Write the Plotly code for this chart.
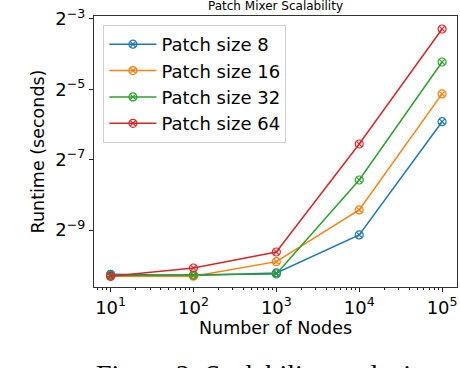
import plotly.graph_objects as go

nodes = [10, 100, 1000, 10000, 100000]
patch_labels = ['Patch size 8', 'Patch size 16', 'Patch size 32', 'Patch size 64']
runtime_p8 = [0.000816, 0.000798, 0.000838, 0.001773, 0.016515]
runtime_p16 = [0.000787, 0.000787, 0.001047, 0.00290, 0.02856]
runtime_p32 = [0.000798, 0.000804, 0.000821, 0.005234, 0.05355]
runtime_p64 = [0.000784, 0.000924, 0.001266, 0.010642, 0.10266]

x_ticks = [10, 100, 1000, 10000, 100000]
x_ticktext = ['10<sup>1</sup>', '10<sup>2</sup>', '10<sup>3</sup>', '10<sup>4</sup>', '10<sup>5</sup>']
y_ticks = [2 ** -3, 2 ** -5, 2 ** -7, 2 ** -9]
y_ticktext = ['2<sup>\u22123</sup>', '2<sup>\u22125</sup>', '2<sup>\u22127</sup>', '2<sup>\u22129</sup>']

colors = ['#1f77b4', '#ff7f0e', '#2ca02c', '#d62728']
series = [runtime_p8, runtime_p16, runtime_p32, runtime_p64]

font = 'DejaVu Sans'

fig = go.Figure()
for label, ys, c in zip(patch_labels, series, colors):
    fig.add_trace(go.Scatter(
        x=nodes, y=ys, name=label, legendgroup=label, mode='lines+markers',
        line=dict(color=c, width=1.5),
        marker=dict(symbol='circle-x-open', size=8, color=c, line=dict(width=1.2, color=c)),
    ))

minor_x = [m * 10 ** k for k in range(0, 6) for m in range(2, 10)]

fig.update_xaxes(
    type='log', range=[0.80, 5.18], automargin=False, ticklabeloverflow='allow',
    tickmode='array', tickvals=x_ticks, ticktext=x_ticktext,
    ticks='outside', ticklen=4, tickwidth=1, tickcolor='#222',
    minor=dict(ticks='outside', ticklen=2, tickwidth=0.8, tickcolor='#222',
               tickmode='array', tickvals=minor_x, showgrid=False),
    showline=True, mirror=True, linecolor='#333', linewidth=1.2,
    showgrid=False, zeroline=False,
    tickfont=dict(family=font, size=18, color='black'),
    title=dict(text='Number of Nodes', font=dict(family=font, size=17.5, color='black'), standoff=2),
)
fig.update_yaxes(
    type='log', range=[-3.197, -0.8775], automargin=False, ticklabeloverflow='allow',
    tickmode='array', tickvals=y_ticks, ticktext=y_ticktext,
    ticks='outside', ticklen=4, tickwidth=1, tickcolor='#222',
    showline=True, mirror=True, linecolor='#333', linewidth=1.2,
    showgrid=False, zeroline=False,
    tickfont=dict(family=font, size=18, color='black'),
    title=dict(text='Runtime (seconds)', font=dict(family=font, size=17.5, color='black'), standoff=6),
)

fig.add_annotation(text='Patch Mixer Scalability', xref='paper', yref='paper', x=0.5, y=1,
                   yanchor='bottom', yshift=1, showarrow=False,
                   font=dict(family=font, size=12, color='black'))
fig.add_annotation(text='Figure 2: Scalability analysis', xref='paper', yref='paper',
                   x=0, y=0, xanchor='left', yanchor='top', xshift=0, yshift=-70,
                   showarrow=False, font=dict(family='Liberation Serif', size=28, color='black'))

fig.update_layout(
    width=460, height=368,
    margin=dict(l=94, r=3, t=16, b=81),
    plot_bgcolor='white', paper_bgcolor='white',
    legend=dict(x=0.026, y=0.967, xanchor='left', yanchor='top', itemwidth=47,
                bgcolor='rgba(255,255,255,0.8)', bordercolor='#d0d0d0', borderwidth=1,
                font=dict(family=font, size=18, color='black'), tracegroupgap=0),
    showlegend=True,
)

# drop the default 8px body margin so the figure fills the window
fig.write_html('out.html', config={'displayModeBar': False},
               post_script="document.body.style.margin='0';")
